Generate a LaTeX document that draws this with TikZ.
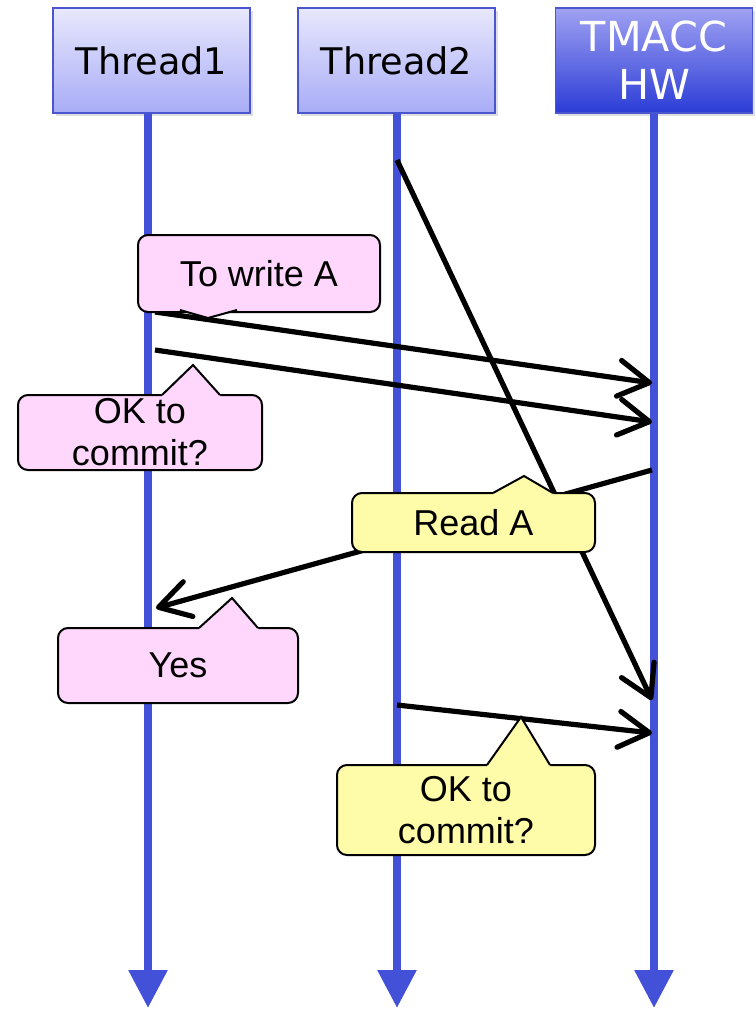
\documentclass[tikz,border=0pt]{standalone}
\usepackage{fontspec}
\setmainfont{Liberation Sans}
\newfontfamily\headfont{DejaVu Sans}
\usetikzlibrary{arrows.meta,shadows}

\definecolor{lifeblue}{HTML}{4350D8}
\definecolor{hdborder}{HTML}{4A56D0}
\definecolor{hdtop}{HTML}{E8E8FD}
\definecolor{hdbot}{HTML}{A8ACF6}
\definecolor{hwtop}{HTML}{A0A2F2}
\definecolor{hwbot}{HTML}{2B3CD6}
\definecolor{pinkfill}{HTML}{FFD7FD}
\definecolor{yellowfill}{HTML}{FFFCA9}

\tikzset{
  header/.style={draw=hdborder, line width=1.3pt, inner sep=0pt,
    minimum width=147.75pt, minimum height=78.75pt,
    top color=hdtop, bottom color=hdbot,
    drop shadow={opacity=0.25, shadow xshift=2pt, shadow yshift=-2pt},
    font=\headfont\fontsize{27.5}{32}\selectfont},
  hwheader/.style={header, top color=hwtop, bottom color=hwbot},
  life/.style={draw=lifeblue, line width=6pt,
    -{Triangle[length=28.5pt,width=28pt]}},
  msg/.style={draw=black, line width=3.9pt,
    -{Straight Barb[length=23pt,width=27pt,round]}},
  bubble/.style={draw=black, line width=1.5pt, rounded corners=7.5pt,
    inner sep=0pt, align=center,
    font=\fontsize{27}{31.5}\selectfont},
  pinkbubble/.style={bubble, fill=pinkfill},
  yellowbubble/.style={bubble, fill=yellowfill},
  tailline/.style={draw=black, line width=1.5pt, line join=miter},
}

\begin{document}
\begin{tikzpicture}[x=0.75pt, y=-0.75pt]
\useasboundingbox (0,0) rectangle (756,1015);

% lane headers
\node[header] (t1) at (151.5,60.5) {Thread1};
\node[header] (t2) at (396.5,60.5) {Thread2};
\node[hwheader] (hw) at (654,60.5) {};
\node[font=\headfont\fontsize{31}{36.5}\selectfont, text=white, align=center]
  (hwlabel) at (654,60) {TMACC\\HW};

% lifelines
\coordinate (t1end) at (148,1008);
\coordinate (t2end) at (397,1008);
\coordinate (hwend) at (654,1008);
\draw[life] (t1.south -| t1end) -- (t1end);
\draw[life] (t2.south -| t2end) -- (t2end);
\draw[life] (hw.south -| hwend) -- (hwend);

% messages
\coordinate (w1s) at (155,312);   \coordinate (w1e) at (652,383);
\coordinate (c1s) at (155,350);   \coordinate (c1e) at (652,422);
\coordinate (r2s) at (397,160);   \coordinate (r2e) at (652,700);
\coordinate (y1s) at (652,470);   \coordinate (y1e) at (156,608);
\coordinate (c2s) at (397,705);   \coordinate (c2e) at (652,733);
\draw[msg] (w1s) -- (w1e);
\draw[msg] (c1s) -- (c1e);
\draw[msg] (r2s) -- (r2e);
\draw[msg] (y1s) -- (y1e);
\draw[msg] (c2s) -- (c2e);

% callouts
\node[pinkbubble, minimum width=181.5pt, minimum height=57.75pt]
  (write) at (259,273.5) {To write A};
\fill[pinkfill] (180,306) -- (180,310) -- (208,318) -- (237,310) -- (237,306) -- cycle;
\draw[tailline] (180,310) -- (208,318) -- (237,310);

\node[pinkbubble, minimum width=183pt, minimum height=56.25pt]
  (ok1) at (140,432.5) {OK to\\commit?};
\fill[pinkfill] (162,399) -- (162,395) -- (193,365) -- (220,395) -- (220,399) -- cycle;
\draw[tailline] (162,395) -- (193,365) -- (220,395);

\node[yellowbubble, minimum width=182.25pt, minimum height=44.25pt]
  (read) at (473.5,522.5) {Read A};
\fill[yellowfill] (493,497) -- (493,493) -- (524,476) -- (553,493) -- (553,497) -- cycle;
\draw[tailline] (493,493) -- (524,476) -- (553,493);

\node[pinkbubble, minimum width=180pt, minimum height=56.25pt]
  (yes) at (178,665.5) {Yes};
\fill[pinkfill] (199,632) -- (199,628) -- (232,598) -- (258,628) -- (258,632) -- cycle;
\draw[tailline] (199,628) -- (232,598) -- (258,628);

\node[yellowbubble, minimum width=193.5pt, minimum height=67.5pt]
  (ok2) at (466,810) {OK to\\commit?};
\fill[yellowfill] (487,769) -- (487,765) -- (521,717) -- (550,765) -- (550,769) -- cycle;
\draw[tailline] (487,765) -- (521,717) -- (550,765);
\end{tikzpicture}
\end{document}
